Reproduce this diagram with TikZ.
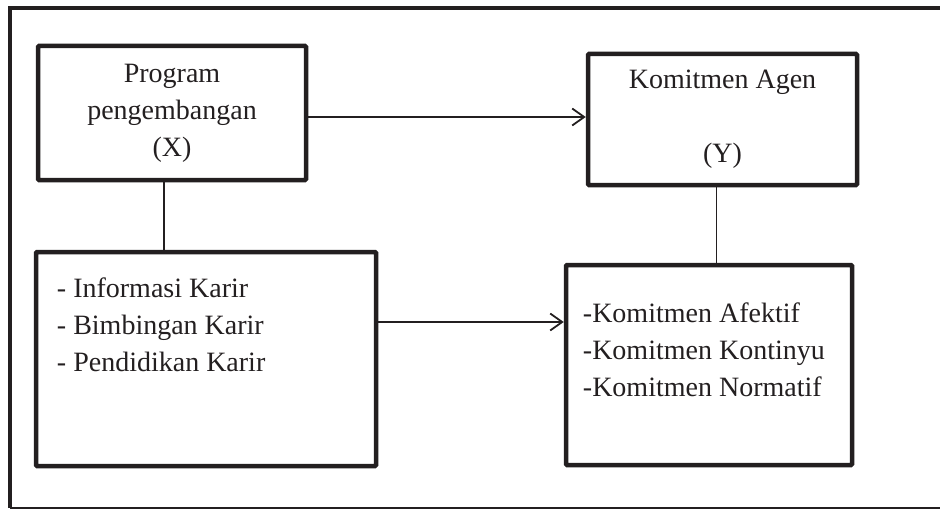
\documentclass[tikz,border=0pt]{standalone}
\usepackage{fontspec}
\setmainfont{Liberation Serif}
\usetikzlibrary{arrows.meta, positioning}
\definecolor{ink}{RGB}{35,31,32}

\begin{document}
\begin{tikzpicture}[
  x=1pt, y=-1pt,
  block/.style={draw=ink, line width=4.5pt, rounded corners=1pt, align=center, inner sep=0pt},
  listtext/.style={align=left, inner sep=0pt, anchor=base west, text=ink},
  link/.style={draw=ink, line width=1.6pt},
  line/.style={link, -{Straight Barb[length=12pt, width=17pt, line width=1.8pt]}},
  font=\fontsize{28pt}{37pt}\selectfont
]
\useasboundingbox (0,0) rectangle (940,511);

% outer frame
\draw[ink, line width=4pt] (944,8) -- (10,8) -- (10,508);
\draw[ink, line width=2pt] (10,508) -- (944,508);

\node[block, minimum width=268pt, minimum height=134pt, text=ink] (prog) at (172,113)
  {Program\\pengembangan\\(X)};
\node[block, minimum width=269pt, minimum height=131pt, text=ink] (agen) at (722.5,119.5)
  {Komitmen Agen\\[37pt](Y)};
\node[block, minimum width=340pt, minimum height=214pt] (karir) at (206,359) {};
\node[block, minimum width=286pt, minimum height=200pt] (komit) at (709,365) {};

% base anchor sits on the last line
\node[listtext] (karirlist) at ([shift={(23pt,-122pt)}]karir.north west)
  {- Informasi Karir\\- Bimbingan Karir\\- Pendidikan Karir};
\node[listtext] (komitlist) at ([shift={(19pt,-134pt)}]komit.north west)
  {-Komitmen Afektif\\-Komitmen Kontinyu\\-Komitmen Normatif};

\draw[line] ([yshift=-4pt]prog.east) -- ([yshift=-4pt]prog.east -| agen.west);
\draw[line] ([yshift=37pt]karir.east) -- ([yshift=37pt]karir.east -| komit.west);
\draw[link] ([xshift=-8pt]prog.south) -- ([xshift=-8pt]prog.south |- karir.north);
\draw[link] ([xshift=-6pt]agen.south) -- ([xshift=-6pt]agen.south |- komit.north);
\end{tikzpicture}
\end{document}
